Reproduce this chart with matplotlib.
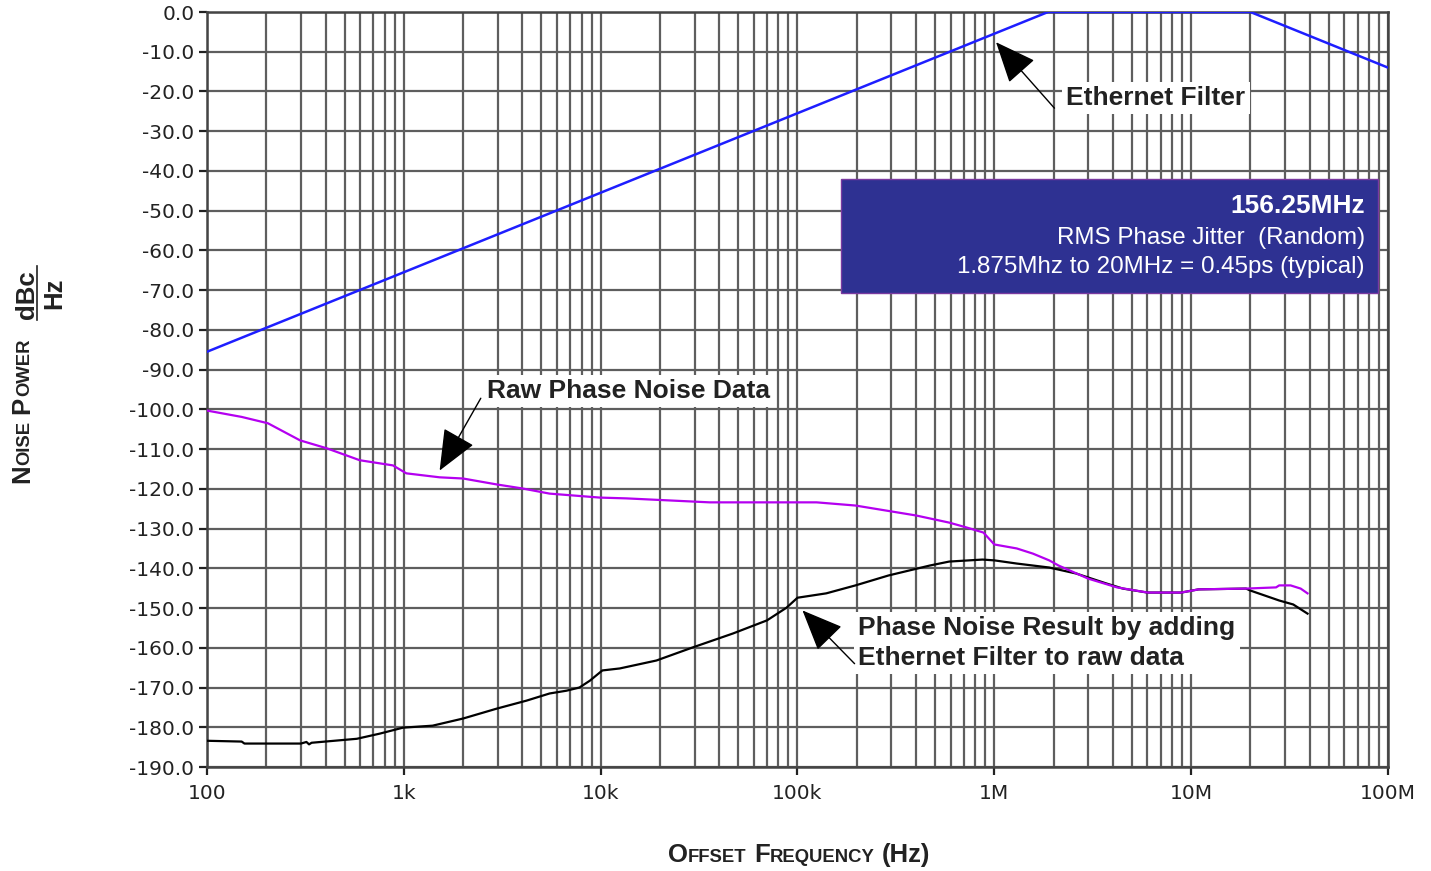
import numpy as np
import matplotlib.pyplot as plt
from matplotlib.patches import Rectangle
from matplotlib.lines import Line2D


# Phase noise plot: raw data, ethernet filter, and filtered result

W, H = 1431, 871
SANS = "Liberation Sans"

# ethernet filter mask (dBc/Hz vs offset freq)
filter_freq = [100, 1.875e6, 20e6, 100e6]
filter_db = [-85.5, 0.0, 0.0, -14.0]

# raw phase noise data
raw_freq = [100, 150, 204, 297, 406, 597, 880, 1030, 1520, 2000, 2970, 4000,
            5500, 9900, 13500, 35800, 125e3, 197e3, 400e3, 590e3, 720e3,
            880e3, 1.0e6, 1.3e6, 1.57e6, 1.9e6, 2.12e6, 3.0e6, 4.2e6, 6.0e6,
            8.9e6, 1.09e7, 1.9e7, 2.7e7, 2.8e7, 3.2e7, 3.6e7, 3.9e7]
raw_db = [-100.3, -101.9, -103.5, -107.8, -109.8, -112.8, -114.1, -116.1,
          -117.1, -117.4, -118.9, -119.9, -121.2, -122.2, -122.4, -123.4,
          -123.4, -124.2, -126.7, -128.5, -129.7, -131.0, -134.0, -135.0,
          -136.3, -138.0, -139.3, -142.6, -144.8, -146.1, -146.1, -145.3,
          -145.1, -144.8, -144.3, -144.3, -145.1, -146.3]

# result after applying filter
res_freq = [100, 150, 155, 300, 320, 330, 340, 577, 755, 990, 1400, 2000,
            2970, 4200, 5500, 6700, 7800, 8800, 10200, 12500, 19200, 29000,
            47000, 70000, 88000, 100e3, 140e3, 197e3, 290e3, 470e3, 590e3,
            870e3, 1.0e6, 1.3e6, 1.9e6, 2.6e6, 3.7e6, 4.5e6, 6.0e6, 8.9e6,
            1.09e7, 1.9e7, 2.0e7, 2.8e7, 3.3e7, 3.9e7]
res_db = [-183.4, -183.6, -184.1, -184.1, -183.7, -184.3, -183.9, -182.9,
          -181.6, -180.1, -179.6, -177.8, -175.3, -173.3, -171.5, -170.8,
          -170.0, -168.3, -165.7, -165.2, -163.2, -160.0, -156.4, -153.1,
          -149.9, -147.4, -146.3, -144.3, -141.8, -139.3, -138.3, -137.8,
          -138.0, -138.8, -139.8, -141.3, -143.8, -145.1, -146.1, -146.1,
          -145.3, -145.1, -145.6, -148.1, -149.1, -151.4]

y_ticks = list(range(0, -191, -10))
x_ticks = [1e2, 1e3, 1e4, 1e5, 1e6, 1e7, 1e8]
x_labels = ["100", "1k", "10k", "100k", "1M", "10M", "100M"]

box_lines = ["156.25MHz", "RMS Phase Jitter  (Random)",
             "1.875Mhz to 20MHz = 0.45ps (typical)"]


plt.rcParams['font.family'] = ['DejaVu Sans']

fig = plt.figure(figsize=(W / 100, H / 100), dpi=100)
ax = fig.add_axes([207 / W, 1 - 767 / H, (1388 - 207) / W, (767 - 12) / H])

ax.set_xscale('log')
ax.set_xlim(100, 1e8)
ax.set_ylim(-190, 0)

# grid
ax.grid(True, which='major', color='#5e5e5e', lw=1.6)
ax.grid(True, which='minor', axis='x', color='#5e5e5e', lw=1.6)
ax.set_axisbelow(True)
for s in ax.spines.values():
    s.set_color('#444444')
    s.set_linewidth(1.8)

ax.set_yticks(y_ticks)
ax.set_yticklabels([f"{v:.1f}" for v in y_ticks])
ax.set_xticks(x_ticks)
ax.set_xticklabels(x_labels)
ax.tick_params(axis='both', which='major', labelsize=14.5, colors='#222222',
               length=6, width=1.6, direction='out')
ax.tick_params(axis='y', pad=3)
ax.tick_params(axis='x', pad=6)
ax.tick_params(axis='x', which='minor', length=0)

# curves
ax.plot(filter_freq, filter_db, color='#1e1eff', lw=1.8, zorder=3)
ax.plot(res_freq, res_db, color='black', lw=1.6, zorder=3)
ax.plot(raw_freq, raw_db, color='#b400f0', lw=1.6, zorder=3)

# info box
ax.add_patch(Rectangle((1.67e5, -70.8), 8.89e7 - 1.67e5, 28.7,
                       facecolor='#2e3192', edgecolor='#7a3aa0', lw=1,
                       zorder=5))
ax.text(7.64e7, -50.6, box_lines[0], color='white', fontsize=19,
        fontweight='bold', family=SANS, ha='right', va='baseline', zorder=6)
ax.text(7.64e7, -58.4, box_lines[1], color='white', fontsize=17.4,
        family=SANS, ha='right', va='baseline', zorder=6)
ax.text(7.64e7, -65.7, box_lines[2], color='white', fontsize=17.4,
        family=SANS, ha='right', va='baseline', zorder=6)

# labels with arrows
white = dict(facecolor='white', edgecolor='none', pad=3)
arrow = dict(arrowstyle='-|>,head_length=1.3,head_width=0.55',
             mutation_scale=20, color='black', lw=1.0, shrinkA=0, shrinkB=0)

ax.text(2.32e6, -23.4, "Ethernet Filter", fontsize=19, fontweight='bold',
        family=SANS, color='#222222', va='baseline', bbox=white, zorder=6)
ax.annotate('', xy=(1.02e6, -7.6), xytext=(2.02e6, -24.2),
            arrowprops=arrow, zorder=7)

ax.text(2640, -97.2, "Raw Phase Noise Data", fontsize=19, fontweight='bold',
        family=SANS, color='#222222', va='baseline', bbox=white, zorder=6)
ax.annotate('', xy=(1520, -115.4), xytext=(2460, -97.2),
            arrowprops=arrow, zorder=7)

ax.text(2.04e5, -158.8, "Phase Noise Result by adding\nEthernet Filter to raw data",
        fontsize=19, fontweight='bold', family=SANS, color='#222222',
        va='center', linespacing=1.3, bbox=white, zorder=6)
ax.annotate('', xy=(1.06e5, -150.6), xytext=(1.95e5, -164.0),
            arrowprops=arrow, zorder=7)


# small caps axis titles, built piece by piece
BIG, SMALL, GAP = 18.5, 13.3, 7
rend = fig.canvas.get_renderer()


def small_caps(cx, cy, parts, rot=0):
    widths = []
    for s, size in parts:
        if s is None:
            widths.append(size)
            continue
        t = fig.text(0, 0, s, fontsize=size, fontweight='bold', family=SANS)
        widths.append(t.get_window_extent(rend).width)
        t.remove()
    pos = -sum(widths) / 2
    for (s, size), w in zip(parts, widths):
        if s is not None:
            if rot == 0:
                fig.text((cx + pos) / W, cy / H, s, fontsize=size,
                         fontweight='bold', family=SANS, color='#222222',
                         ha='left', va='baseline')
            else:
                fig.text(cx / W, (cy + pos) / H, s, fontsize=size,
                         fontweight='bold', family=SANS, color='#222222',
                         rotation=90, rotation_mode='anchor',
                         ha='left', va='baseline')
        pos += w


small_caps(799, 871 - 862, [("O", BIG), ("FFSET", SMALL), (None, GAP),
                            ("F", BIG), ("REQUENCY", SMALL), (None, GAP),
                            ("(Hz)", BIG)])
small_caps(29, 871 - 411, [("N", BIG), ("OISE", SMALL), (None, GAP),
                           ("P", BIG), ("OWER", SMALL)], rot=90)

# dBc / Hz fraction
fig.text(34 / W, (871 - 295) / H, "dBc", fontsize=18.5, fontweight='bold',
         family=SANS, color='#222222', rotation=90, rotation_mode='anchor',
         ha='center', va='baseline')
fig.text(61 / W, (871 - 293) / H, "Hz", fontsize=18.5, fontweight='bold',
         family=SANS, color='#222222', rotation=90, rotation_mode='anchor',
         ha='center', va='baseline')
fig.add_artist(Line2D([37 / W, 37 / W], [(871 - 320) / H, (871 - 266) / H],
                      color='#222222', lw=1.2))

fig.savefig("out.png", dpi=100)
